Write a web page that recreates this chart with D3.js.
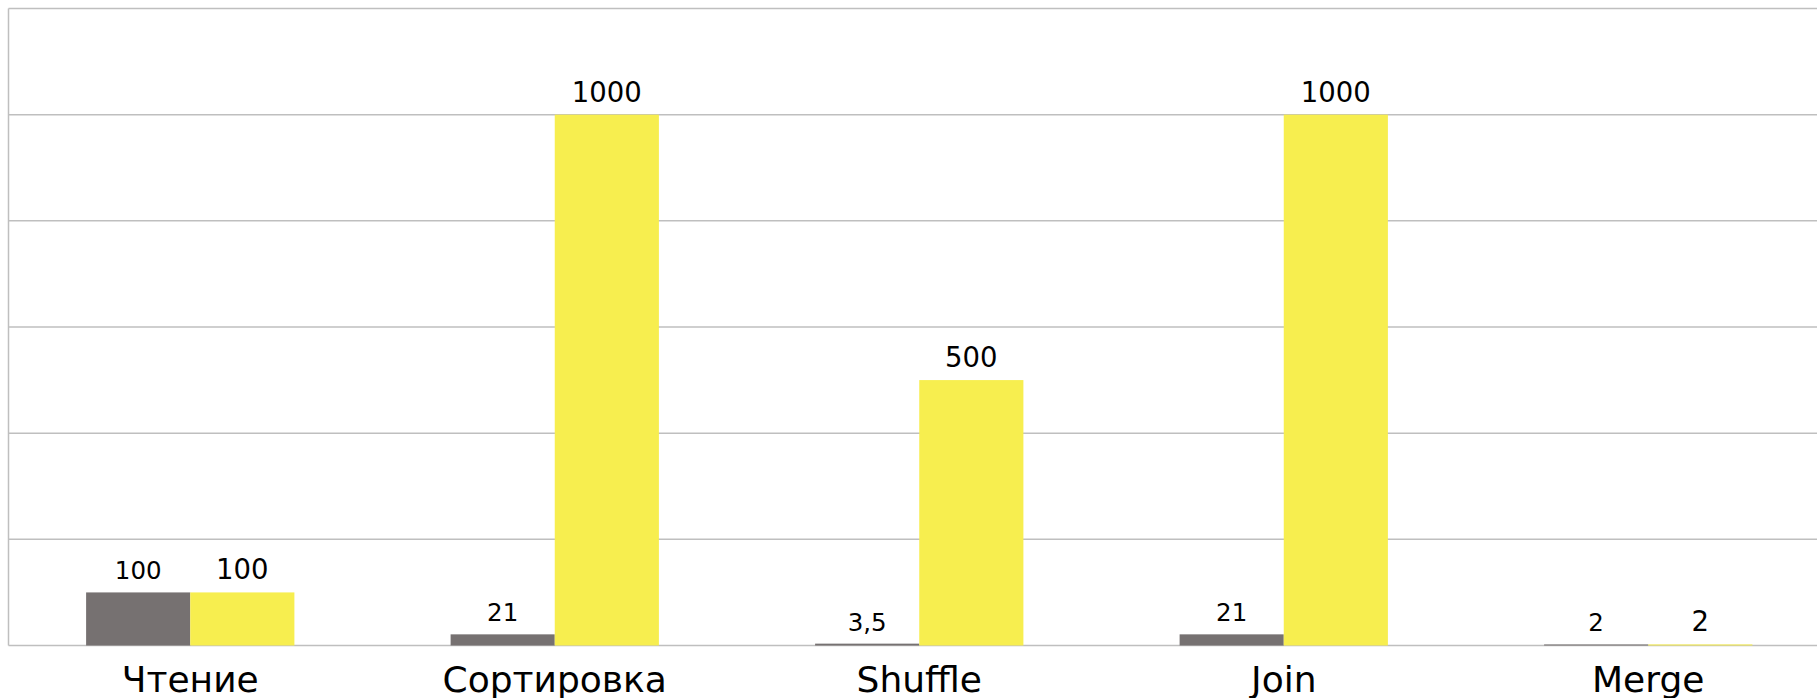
<!DOCTYPE html>
<html>
<head>
<meta charset="utf-8">
<script src="https://cdn.jsdelivr.net/npm/d3@7"></script>
<style>
  html, body { margin: 0; padding: 0; background: #fff; overflow: hidden; }
  text { font-family: "DejaVu Sans", Verdana, sans-serif; fill: #000; }
</style>
</head>
<body>
<div id="chart"></div>
<script>
var categories = ["Чтение", "Сортировка", "Shuffle", "Join", "Merge"];
var seriesNames = ["a", "b"];
var valuesA = [100, 21, 3.5, 21, 2];
var valuesB = [100, 1000, 500, 1000, 2];
var labelsA = ["100", "21", "3,5", "21", "2"];
var labelsB = ["100", "1000", "500", "1000", "2"];
var yTicks = [0, 200, 400, 600, 800, 1000, 1200];

var width = 1817, height = 698;
var plotLeft = 8.5, plotTop = 8.5, baseline = 645.5, step = 364.5;
var colors = { a: "#767171", b: "#f7ee4f" };

var svg = d3.select("#chart").append("svg")
    .attr("width", width)
    .attr("height", height);

var y = d3.scaleLinear()
    .domain([0, 1200])
    .range([baseline, plotTop]);

var x0 = d3.scaleBand()
    .domain(categories)
    .range([plotLeft - 0.5, plotLeft - 0.5 + categories.length * step])
    .paddingInner(3 / 7)
    .paddingOuter(1.5 / 7);

var x1 = d3.scaleBand()
    .domain(seriesNames)
    .range([0, x0.bandwidth()]);

// gridlines
svg.append("g")
    .selectAll("line")
    .data(yTicks)
    .join("line")
    .attr("x1", plotLeft)
    .attr("x2", width)
    .attr("y1", d => y(d))
    .attr("y2", d => y(d))
    .attr("stroke", "#bfbfbf")
    .attr("stroke-width", 1.5);

// left edge
svg.append("line")
    .attr("x1", plotLeft).attr("x2", plotLeft)
    .attr("y1", plotTop).attr("y2", baseline)
    .attr("stroke", "#bfbfbf")
    .attr("stroke-width", 1.5);

var rows = categories.map(function(c, i) {
    return { cat: c, a: valuesA[i], b: valuesB[i], la: labelsA[i], lb: labelsB[i] };
});

var groups = svg.append("g")
    .selectAll("g")
    .data(rows)
    .join("g")
    .attr("transform", d => "translate(" + x0(d.cat) + ",0)");

groups.selectAll("rect")
    .data(d => seriesNames.map(k => ({ key: k, value: d[k] })))
    .join("rect")
    .attr("x", d => x1(d.key))
    .attr("width", x1.bandwidth())
    .attr("y", d => y(d.value))
    .attr("height", d => baseline - y(d.value))
    .attr("fill", d => colors[d.key]);

// value labels
groups.selectAll("text")
    .data(d => [
        { key: "a", value: d.a, label: d.la, size: 24.5 },
        { key: "b", value: d.b, label: d.lb, size: 27.5 }
    ])
    .join("text")
    .attr("x", d => x1(d.key) + x1.bandwidth() / 2)
    .attr("y", d => y(d.value) - 13)
    .attr("text-anchor", "middle")
    .style("font-size", d => d.size + "px")
    .text(d => d.label);

// category labels
svg.append("g")
    .selectAll("text")
    .data(categories)
    .join("text")
    .attr("x", d => x0(d) + x0.bandwidth() / 2)
    .attr("y", 692)
    .attr("text-anchor", "middle")
    .style("font-size", "36px")
    .text(d => d);
</script>
</body>
</html>
